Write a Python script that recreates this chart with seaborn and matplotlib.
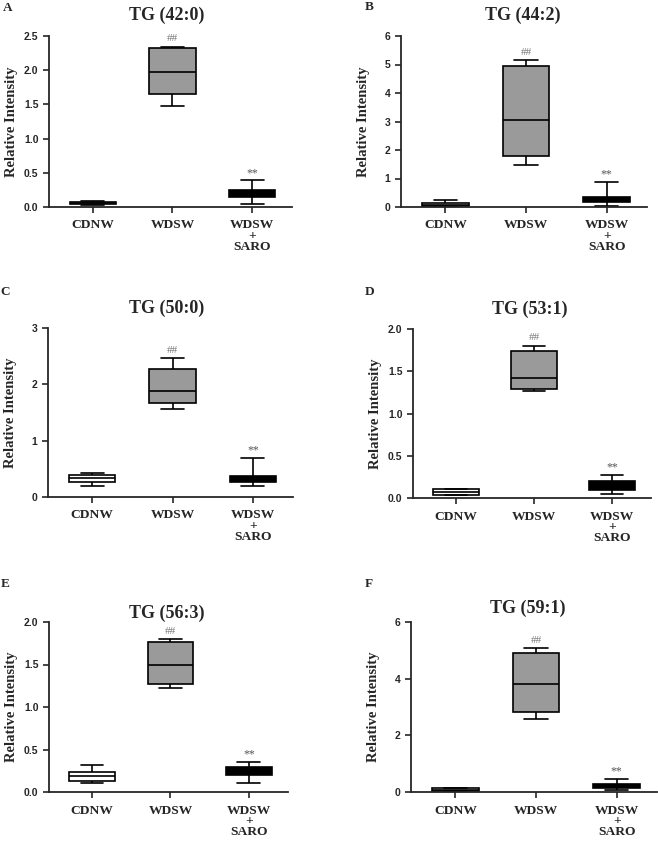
import numpy as np
import pandas as pd
import seaborn as sns
import matplotlib.pyplot as plt
import matplotlib.ticker as mticker

# groups shown on every panel
groups = ["CDNW", "WDSW", "WDSW\n+\nSARO"]
group_colors = ["white", "#9a9a9a", "black"]

# five-number summary per group: min, q1, median, q3, max
tg_42_0 = [[0.03, 0.04, 0.06, 0.08, 0.09],
           [1.47, 1.65, 1.98, 2.33, 2.34],
           [0.05, 0.14, 0.20, 0.25, 0.39]]
tg_44_2 = [[0.01, 0.02, 0.08, 0.15, 0.23],
           [1.47, 1.79, 3.06, 4.96, 5.15],
           [0.04, 0.16, 0.23, 0.35, 0.87]]
tg_50_0 = [[0.20, 0.27, 0.33, 0.385, 0.43],
           [1.57, 1.67, 1.89, 2.27, 2.46],
           [0.19, 0.27, 0.33, 0.38, 0.69]]
tg_53_1 = [[0.03, 0.035, 0.07, 0.105, 0.11],
           [1.264, 1.295, 1.425, 1.74, 1.80],
           [0.05, 0.09, 0.146, 0.197, 0.276]]
tg_56_3 = [[0.106, 0.13, 0.185, 0.236, 0.315],
           [1.228, 1.276, 1.496, 1.77, 1.80],
           [0.106, 0.197, 0.256, 0.30, 0.358]]
tg_59_1 = [[0.02, 0.035, 0.08, 0.14, 0.15],
           [2.58, 2.84, 3.81, 4.89, 5.07],
           [0.08, 0.13, 0.22, 0.29, 0.47]]

panel_stats = [tg_42_0, tg_44_2, tg_50_0, tg_53_1, tg_56_3, tg_59_1]
titles = ["TG (42:0)", "TG (44:2)", "TG (50:0)", "TG (53:1)", "TG (56:3)", "TG (59:1)"]
letters = ["A", "B", "C", "D", "E", "F"]
y_max = [2.5, 6, 3, 2.0, 2.0, 6]
y_step = [0.5, 1, 1, 0.5, 0.5, 2]
y_fmt = ["%.1f", "%d", "%d", "%.1f", "%.1f", "%d"]

# layout in pixels: (left, right, top, bottom) of each axes
W, H = 658, 841
axes_px = [(49, 292, 36, 207), (401, 647, 36, 207),
           (48, 293, 328, 497), (413, 651, 329, 498),
           (49, 288, 622, 792), (411, 657, 622, 792)]
title_px = [(167, 15), (523, 15), (167, 308), (530, 309), (167, 613), (528, 608)]
letter_px = [(8, 8), (369, 7), (5, 292), (370, 292), (5, 584), (369, 584)]

sns.set_style("ticks")
plt.rcParams['font.family'] = ['Liberation Serif', 'DejaVu Serif']
serif = ['Liberation Serif', 'DejaVu Serif']
sans = ['Liberation Sans', 'DejaVu Sans']

fig = plt.figure(figsize=(W / 100, H / 100), dpi=100)

for i, stats in enumerate(panel_stats):
    l, r, t, b = axes_px[i]
    ax = fig.add_axes([l / W, (H - b) / H, (r - l) / W, (b - t) / H])

    df = pd.DataFrame({
        "group": np.repeat(groups, 5),
        "value": np.concatenate(stats),
    })
    sns.boxplot(data=df, x="group", y="value", hue="group", order=groups,
                hue_order=groups, palette=dict(zip(groups, group_colors)),
                whis=(0, 100), width=0.58, linecolor="black", linewidth=1.2,
                showfliers=False, legend=False, ax=ax)

    ax.set_xlim(-0.55, 2.5)
    ax.set_ylim(0, y_max[i])
    ax.yaxis.set_major_locator(mticker.MultipleLocator(y_step[i]))
    ax.yaxis.set_major_formatter(mticker.FormatStrFormatter(y_fmt[i]))
    sns.despine(ax=ax)
    for side in ["left", "bottom"]:
        ax.spines[side].set_linewidth(1.3)
    ax.tick_params(axis="both", length=4, width=1.2, direction="out")
    ax.tick_params(axis="x", pad=5)

    for lab in ax.get_yticklabels():
        lab.set_family(sans)
        lab.set_fontweight("bold")
        lab.set_fontsize(7.5)
    ax.set_xticks(range(3))
    ax.set_xticklabels(groups, fontsize=9.7, fontweight="bold",
                       family=serif, linespacing=0.88)

    ax.set_xlabel("")
    ax.set_ylabel("Relative Intensity", fontsize=10.5, fontweight="bold", family=serif)
    ax.yaxis.set_label_coords(-31 / (r - l), 0.5)

    # significance marks above the max whiskers
    ax.annotate("##", xy=(1, stats[1][4]), xytext=(0, 2.5), textcoords="offset points",
                ha="center", va="bottom", fontsize=8, color="#777777", family=serif)
    ax.annotate("**", xy=(2, stats[2][4]), xytext=(0, 1), textcoords="offset points",
                ha="center", va="bottom", fontsize=8.5, color="#555555", family=serif)

    tx, ty = title_px[i]
    fig.text(tx / W, 1 - ty / H, titles[i], ha="center", va="center",
             fontsize=13, fontweight="bold", family=serif)
    lx, ly = letter_px[i]
    fig.text(lx / W, 1 - ly / H, letters[i], ha="center", va="center",
             fontsize=9.5, fontweight="bold", family=serif)

fig.savefig("out.png", dpi=100)
